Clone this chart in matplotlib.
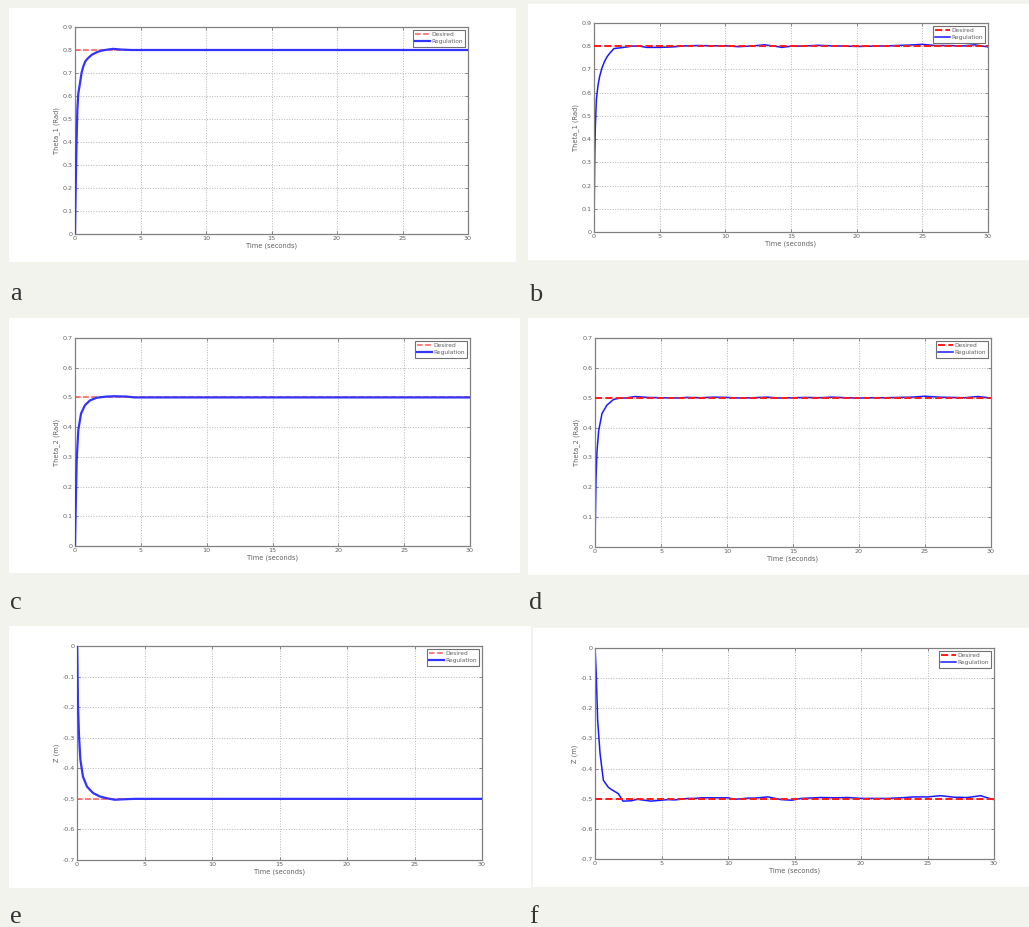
import matplotlib
matplotlib.use("Agg")
import matplotlib.pyplot as plt
from matplotlib.patches import Rectangle

W, H = 1029, 927

# ---- data ----
t_a = [0, 0.03, 0.08, 0.13, 0.18, 0.25, 0.38, 0.5, 0.64, 0.8, 1.0, 1.3, 1.65, 2.0, 2.4, 2.9, 3.5, 4.3, 30]
y_a = [0, 0.12, 0.29, 0.43, 0.54, 0.61, 0.655, 0.70, 0.73, 0.752, 0.765, 0.78, 0.79, 0.797, 0.801, 0.805, 0.802, 0.80, 0.80]

t_b = [0, 0.05, 0.1, 0.18, 0.3, 0.43, 0.6, 0.8, 1.0, 1.2, 1.52, 2.0, 2.5, 3.0, 3.5, 4.0, 5.0, 6.0, 7.0, 8.0, 9.0,
       10, 11, 12, 13, 14, 14.3, 15, 16, 17, 18, 19, 20, 21, 22, 23, 24, 25, 26, 27, 28, 29, 30]
y_b = [0, 0.3, 0.45, 0.57, 0.63, 0.67, 0.705, 0.734, 0.755, 0.77, 0.79, 0.793, 0.797, 0.801, 0.800, 0.795,
       0.795, 0.797, 0.802, 0.803, 0.802, 0.802, 0.798, 0.801, 0.806, 0.798, 0.795, 0.800, 0.801, 0.804,
       0.802, 0.801, 0.799, 0.800, 0.801, 0.803, 0.805, 0.808, 0.803, 0.803, 0.801, 0.806, 0.797]

t_c = [0, 0.05, 0.13, 0.25, 0.46, 0.76, 1.14, 1.65, 2.4, 3.0, 3.9, 4.5, 30]
y_c = [0, 0.12, 0.29, 0.39, 0.446, 0.474, 0.49, 0.499, 0.503, 0.504, 0.503, 0.50, 0.50]

t_d = [0, 0.03, 0.08, 0.15, 0.28, 0.53, 0.9, 1.4, 1.8, 2.3, 3.05, 4, 5, 6, 7, 8, 9, 10, 11, 12, 13,
       14, 15, 16, 17, 18, 19, 20, 21, 22, 23, 24, 25, 26, 27, 28, 29, 30]
y_d = [0, 0.1, 0.235, 0.32, 0.39, 0.447, 0.475, 0.494, 0.498, 0.499, 0.504, 0.501, 0.500, 0.499, 0.501,
       0.500, 0.502, 0.501, 0.499, 0.500, 0.502, 0.499, 0.500, 0.501, 0.500, 0.502, 0.500, 0.499, 0.500,
       0.500, 0.501, 0.502, 0.505, 0.502, 0.501, 0.500, 0.504, 0.499]

t_e = [0, 0.02, 0.07, 0.15, 0.25, 0.44, 0.74, 1.19, 1.68, 2.2, 2.8, 3.65, 4.3, 30]
y_e = [0, -0.01, -0.187, -0.296, -0.372, -0.427, -0.46, -0.481, -0.492, -0.498, -0.503, -0.501, -0.50, -0.50]

t_f = [0, 0.08, 0.2, 0.38, 0.63, 1.0, 1.25, 1.75, 2.1, 2.7, 3.2, 3.7, 4.2, 5.0, 5.5, 6.0, 7.0, 7.5, 8.0,
       9.0, 10, 10.5, 11.5, 12, 13, 14, 14.8, 15.5, 16.5, 17, 18, 19, 20, 21, 22, 23, 24, 25, 26, 27,
       28, 29, 29.5, 30]
y_f = [0, -0.07, -0.24, -0.35, -0.439, -0.462, -0.47, -0.483, -0.508, -0.507, -0.502, -0.505, -0.508,
       -0.505, -0.503, -0.504, -0.499, -0.499, -0.497, -0.497, -0.497, -0.502, -0.498, -0.498, -0.494,
       -0.503, -0.505, -0.499, -0.497, -0.496, -0.497, -0.496, -0.499, -0.499, -0.499, -0.497, -0.494,
       -0.494, -0.490, -0.495, -0.496, -0.490, -0.497, -0.503]

t_des = [0, 30]
des_a, des_c, des_e = 0.8, 0.5, -0.5

ylabels = ["Theta_1 (Rad)", "Theta_1 (Rad)", "Theta_2 (Rad)", "Theta_2 (Rad)", "Z (m)", "Z (m)"]
letters = ["a", "b", "c", "d", "e", "f"]
xticks = [0, 5, 10, 15, 20, 25, 30]


def rect(x0, y0, x1, y1):
    return [x0 / W, 1 - y1 / H, (x1 - x0) / W, (y1 - y0) / H]


fig = plt.figure(figsize=(W / 100, H / 100), dpi=100, facecolor="#f3f3ee")

boxes = [(9, 8, 516, 262), (528, 4, 1029, 260), (9, 318, 520, 573),
         (528, 318, 1029, 575), (9, 626, 531, 888), (533, 628, 1029, 887)]
axes_px = [(75, 27, 468, 234), (594, 23, 988, 232), (75, 338, 470, 546),
           (595, 338, 991, 547), (77, 646, 482, 860), (595, 648, 994, 859)]
letter_px = [(10, 300), (529, 301), (10, 609), (529, 609), (10, 923), (529, 923)]

panels = [
    (t_a, y_a, des_a, (0, 0.9), [i / 10 for i in range(10)], True),
    (t_b, y_b, des_a, (0, 0.9), [i / 10 for i in range(10)], False),
    (t_c, y_c, des_c, (0, 0.7), [i / 10 for i in range(8)], True),
    (t_d, y_d, des_c, (0, 0.7), [i / 10 for i in range(8)], False),
    (t_e, y_e, des_e, (-0.7, 0), [-i / 10 for i in range(8)], True),
    (t_f, y_f, des_e, (-0.7, 0), [-i / 10 for i in range(8)], False),
]

for i, (t, y, des, ylim, yt, smooth) in enumerate(panels):
    x0, y0, x1, y1 = boxes[i]
    fig.patches.append(Rectangle((x0 / W, 1 - y1 / H), (x1 - x0) / W, (y1 - y0) / H,
                                 transform=fig.transFigure, facecolor="white",
                                 edgecolor="none", zorder=-5))
    ax = fig.add_axes(rect(*axes_px[i]))
    ax.set_facecolor("white")
    if smooth:
        ax.plot(t_des, [des, des], "--", color="#ff5a5a", lw=1.1, label="Desired", zorder=2)
        ax.plot(t, y, "-", color="#3333ff", lw=1.6, label="Regulation", zorder=3)
    else:
        ax.plot(t_des, [des, des], "--", color="#ff1a1a", lw=1.4, label="Desired", zorder=3)
        ax.plot(t, y, "-", color="#1a1aff", lw=1.1, label="Regulation", zorder=2)
    ax.set_xlim(0, 30)
    ax.set_ylim(*ylim)
    ax.set_xticks(xticks)
    ax.set_yticks(yt)
    ax.set_xticklabels([str(v) for v in xticks])
    ax.set_yticklabels(["0" if abs(v) < 1e-9 else f"{v:g}" for v in yt])
    ax.grid(True, linestyle=":", color="#b4b4b4", lw=0.7)
    ax.tick_params(direction="in", length=2, width=0.6, colors="#777777",
                   labelsize=4.6, labelcolor="#606060", pad=1.5, right=True, top=True)
    for s in ax.spines.values():
        s.set_color("#808080")
        s.set_linewidth(0.9)
    ax.set_xlabel("Time (seconds)", fontsize=4.8, color="#606060", labelpad=1)
    ax.set_ylabel(ylabels[i], fontsize=4.8, color="#606060", labelpad=2)
    leg = ax.legend(loc="upper right", fontsize=4.2, handlelength=2.6, borderpad=0.4,
                    labelspacing=0.35, handletextpad=0.2, fancybox=False,
                    framealpha=1, borderaxespad=0.5)
    leg.get_frame().set_edgecolor("#707070")
    leg.get_frame().set_linewidth(0.8)
    for txt in leg.get_texts():
        txt.set_color("#606060")
    lx, ly = letter_px[i]
    fig.text(lx / W, 1 - ly / H, letters[i], fontsize=19, family="Liberation Serif",
             color="#333333", va="baseline", ha="left")

fig.savefig("out.png", dpi=100, facecolor=fig.get_facecolor())
